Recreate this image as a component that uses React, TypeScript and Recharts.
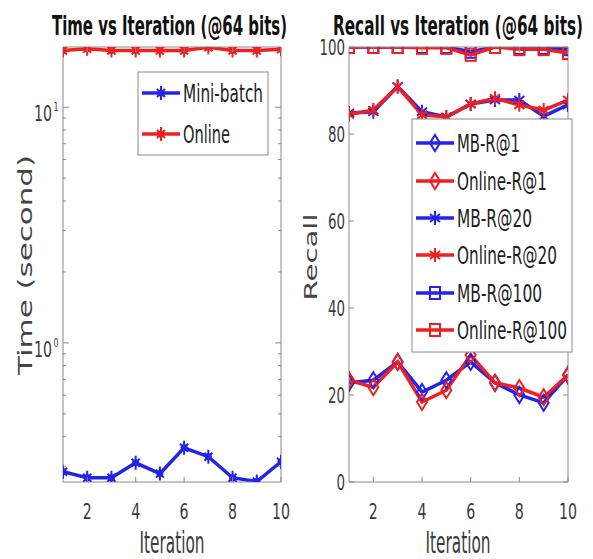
import { Line, LineChart, XAxis, YAxis } from 'recharts'

// values
const iterations = [1, 2, 3, 4, 5, 6, 7, 8, 9, 10]
const timeMiniBatch = [0.284, 0.268, 0.268, 0.31, 0.279, 0.359, 0.329, 0.268, 0.258, 0.313]
const timeOnline = [17.4, 17.7, 17.4, 17.4, 17.4, 17.4, 17.95, 17.4, 17.4, 17.6]

const mbR1 = [22.8, 23.4, 27.6, 20.7, 23.4, 27.6, 22.8, 20.0, 18.2, 24.6]
const onlineR1 = [23.4, 21.8, 27.6, 18.4, 21.1, 29.2, 22.8, 21.6, 19.5, 24.6]
const mbR20 = [84.8, 85.1, 90.9, 85.1, 83.9, 86.9, 87.8, 87.8, 84.1, 86.7]
const onlineR20 = [84.5, 85.5, 90.9, 84.4, 83.9, 86.9, 88.2, 86.7, 85.5, 87.8]
const mbR100 = [100, 100, 100, 100, 100, 98.9, 100, 99.8, 99.8, 99.5]
const onlineR100 = [100, 100, 100, 99.8, 99.8, 98.2, 100, 99.5, 99.5, 98.6]

const iterTicks = [2, 4, 6, 8, 10]
const timeTicks = [0.3, 0.4, 0.5, 0.6, 0.7, 0.8, 0.9, 1, 2, 3, 4, 5, 6, 7, 8, 9, 10]
const recallTicks = [0, 20, 40, 60, 80, 100]

const BLUE = '#2323ea'
const RED = '#ee2020'
const AXIS = '#8a8a8a'
const TXT = '#3a3a3a'
const NARROW = "'Liberation Sans Narrow', 'DejaVu Sans Condensed', 'Liberation Sans', sans-serif"
const WIDE = "'DejaVu Sans', 'Liberation Sans', sans-serif"

const timeData = iterations.map((it, i) => ({ it, mb: timeMiniBatch[i], on: timeOnline[i] }))
const recallData = iterations.map((it, i) => ({
  it,
  mbR1: mbR1[i],
  onR1: onlineR1[i],
  mbR20: mbR20[i],
  onR20: onlineR20[i],
  mbR100: mbR100[i],
  onR100: onlineR100[i],
}))

type Shape = 'star' | 'diamond' | 'asterisk' | 'square'

const timeSeries = [
  { key: 'mb', name: 'Mini-batch', color: BLUE, shape: 'star' as Shape, textW: 80 },
  { key: 'on', name: 'Online', color: RED, shape: 'star' as Shape, textW: 47 },
]
const recallSeries = [
  { key: 'mbR1', name: 'MB-R@1', color: BLUE, shape: 'diamond' as Shape, textW: 63 },
  { key: 'onR1', name: 'Online-R@1', color: RED, shape: 'diamond' as Shape, textW: 90 },
  { key: 'mbR20', name: 'MB-R@20', color: BLUE, shape: 'asterisk' as Shape, textW: 75 },
  { key: 'onR20', name: 'Online-R@20', color: RED, shape: 'asterisk' as Shape, textW: 100 },
  { key: 'mbR100', name: 'MB-R@100', color: BLUE, shape: 'square' as Shape, textW: 85 },
  { key: 'onR100', name: 'Online-R@100', color: RED, shape: 'square' as Shape, textW: 110 },
]

function Marker({ cx, cy, shape, color }: { cx: number; cy: number; shape: Shape; color: string }) {
  if (cx == null || cy == null) return null
  const t = `translate(${cx},${cy})`
  if (shape === 'star') {
    return (
      <g transform={t}>
        <circle r={3.5} fill={color} />
        <path d="M0,-7V7M-4,-4L4,4M-4,4L4,-4" stroke={color} strokeWidth={2} />
      </g>
    )
  }
  if (shape === 'diamond') {
    return (
      <g transform={t}>
        <path d="M0,-8L5,0L0,8L-5,0Z" fill="none" stroke={color} strokeWidth={2} />
      </g>
    )
  }
  if (shape === 'asterisk') {
    return (
      <g transform={t}>
        <path d="M0,-7V7M-5,-4L5,4M-5,4L5,-4" stroke={color} strokeWidth={2} />
      </g>
    )
  }
  return (
    <g transform={t}>
      <rect x={-5} y={-6} width={10} height={12} fill="none" stroke={color} strokeWidth={2} />
    </g>
  )
}

const makeDot = (shape: Shape, color: string) => (p: any) => (
  <Marker key={`${shape}-${color}-${p.index}`} cx={p.cx} cy={p.cy} shape={shape} color={color} />
)

function FitText(props: {
  x: number
  y: number
  w: number
  size: number
  text: string
  anchor?: 'start' | 'middle' | 'end'
  bold?: boolean
  color?: string
  font?: string
  rotate?: boolean
}) {
  const { x, y, w, size, text, anchor = 'middle', bold, color = TXT, font = NARROW, rotate } = props
  return (
    <text
      x={x}
      y={y}
      fontSize={size}
      fontFamily={font}
      fontWeight={bold ? 'bold' : 'normal'}
      fill={color}
      textAnchor={anchor}
      textLength={w}
      lengthAdjust="spacingAndGlyphs"
      transform={rotate ? `rotate(-90 ${x} ${y})` : undefined}
    >
      {text}
    </text>
  )
}

function BottomTick({ x, y, payload }: any) {
  const s = String(payload.value)
  return (
    <g>
      <line x1={x} x2={x} y1={y} y2={y - 5} stroke={AXIS} />
      <FitText x={x} y={y + 37} w={s.length * 9} size={22} text={s} />
    </g>
  )
}

function TopTick({ x, y }: any) {
  return <line x1={x} x2={x} y1={y} y2={y + 5} stroke={AXIS} />
}

function LinearLeftTick({ x, y, payload }: any) {
  const s = String(payload.value)
  return (
    <g>
      <line x1={x} x2={x + 5} y1={y} y2={y} stroke={AXIS} />
      <FitText x={x - 4} y={y + 8} w={s.length * 8.5} size={22} text={s} anchor="end" />
    </g>
  )
}

function LinearRightTick({ x, y }: any) {
  return <line x1={x} x2={x - 5} y1={y} y2={y} stroke={AXIS} />
}

function LogTick({ x, y, payload, side }: any) {
  const v = payload.value as number
  const exp = Math.log10(v)
  const major = Math.abs(exp - Math.round(exp)) < 1e-9
  const len = major ? 6 : 3
  const dir = side === 'left' ? 1 : -1
  return (
    <g>
      <line x1={x} x2={x + dir * len} y1={y} y2={y} stroke={AXIS} />
      {major && side === 'left' && (
        <g>
          <FitText x={x - 11} y={y + 14} w={18} size={22} text="10" anchor="end" />
          <FitText x={x - 9.5} y={y + 4} w={5} size={13} text={String(Math.round(exp))} anchor="start" />
        </g>
      )}
    </g>
  )
}

const axisCommon = {
  tickSize: 0,
  tickMargin: 0,
  tickLine: false,
  interval: 0 as const,
  axisLine: { stroke: AXIS },
  allowDataOverflow: true,
}

function TimeChart() {
  return (
    <div style={{ position: 'absolute', left: 0, top: 0 }}>
      <LineChart width={295} height={559} data={timeData} margin={{ top: 46, right: 13, bottom: 76, left: 62 }}>
        <XAxis xAxisId="b" dataKey="it" type="number" domain={[1, 10]} ticks={iterTicks} height={1}
          {...axisCommon} tick={(p: any) => <BottomTick {...p} />} />
        <XAxis xAxisId="t" orientation="top" dataKey="it" type="number" domain={[1, 10]} ticks={iterTicks} height={1}
          {...axisCommon} tick={(p: any) => <TopTick {...p} />} />
        <YAxis yAxisId="l" type="number" scale="log" domain={[0.257, 18]} ticks={timeTicks} width={1}
          {...axisCommon} tick={(p: any) => <LogTick {...p} side="left" />} />
        <YAxis yAxisId="r" orientation="right" type="number" scale="log" domain={[0.257, 18]} ticks={timeTicks} width={1}
          {...axisCommon} tick={(p: any) => <LogTick {...p} side="right" />} />
        {timeSeries.map((s) => (
          <Line key={s.key} xAxisId="b" yAxisId="l" type="linear" dataKey={s.key} stroke={s.color}
            strokeWidth={3.5} dot={makeDot(s.shape, s.color)} activeDot={false} isAnimationActive={false} />
        ))}
      </LineChart>
    </div>
  )
}

function RecallChart() {
  return (
    <div style={{ position: 'absolute', left: 295, top: 0 }}>
      <LineChart width={298} height={559} data={recallData} margin={{ top: 46, right: 24, bottom: 76, left: 53 }}>
        <XAxis xAxisId="b" dataKey="it" type="number" domain={[1, 10]} ticks={iterTicks} height={1}
          {...axisCommon} tick={(p: any) => <BottomTick {...p} />} />
        <XAxis xAxisId="t" orientation="top" dataKey="it" type="number" domain={[1, 10]} ticks={iterTicks} height={1}
          {...axisCommon} tick={(p: any) => <TopTick {...p} />} />
        <YAxis yAxisId="l" type="number" domain={[0, 100]} ticks={recallTicks} width={1}
          {...axisCommon} tick={(p: any) => <LinearLeftTick {...p} />} />
        <YAxis yAxisId="r" orientation="right" type="number" domain={[0, 100]} ticks={recallTicks} width={1}
          {...axisCommon} tick={(p: any) => <LinearRightTick {...p} />} />
        {recallSeries.map((s) => (
          <Line key={s.key} xAxisId="b" yAxisId="l" type="linear" dataKey={s.key} stroke={s.color}
            strokeWidth={3.5} dot={makeDot(s.shape, s.color)} activeDot={false} isAnimationActive={false} />
        ))}
      </LineChart>
    </div>
  )
}

function LegendBox({ x, y, w, h, rows, series }: { x: number; y: number; w: number; h: number; rows: number[]; series: typeof recallSeries }) {
  return (
    <g>
      <rect x={x} y={y} width={w} height={h} fill="#fff" stroke={AXIS} />
      {series.map((s, i) => (
        <g key={s.key}>
          <line x1={x + 4} x2={x + 42} y1={rows[i]} y2={rows[i]} stroke={s.color} strokeWidth={3.5} />
          <Marker cx={x + 23} cy={rows[i]} shape={s.shape} color={s.color} />
          <FitText x={x + 45} y={rows[i] + 9} w={s.textW} size={25} text={s.name} anchor="start" color="#222" />
        </g>
      ))}
    </g>
  )
}

export default function App() {
  return (
    <div style={{ position: 'fixed', left: 0, top: 0, width: 593, height: 559, background: '#fff' }}>
      <TimeChart />
      <RecallChart />
      <svg width={593} height={559} style={{ position: 'absolute', left: 0, top: 0, pointerEvents: 'none' }}>
        <FitText x={169.5} y={35} w={235} size={27} bold color="#111" text="Time vs Iteration (@64 bits)" />
        <FitText x={458} y={35} w={250} size={27} bold color="#111" text="Recall vs Iteration (@64 bits)" />
        <FitText x={172} y={553} w={65} size={30} text="Iteration" />
        <FitText x={458} y={553} w={65} size={30} text="Iteration" />
        <FitText x={32} y={265} w={220} size={20} font={WIDE} rotate text="Time (second)" color="#444" />
        <FitText x={317} y={257} w={87} size={18} font={WIDE} rotate text="Recall" color="#444" />
        <LegendBox x={138} y={72} w={130} h={83} rows={[93, 134]} series={timeSeries} />
        <LegendBox x={412} y={119} w={160} h={233} rows={[143, 181, 218, 255, 293, 330]} series={recallSeries} />
      </svg>
    </div>
  )
}
